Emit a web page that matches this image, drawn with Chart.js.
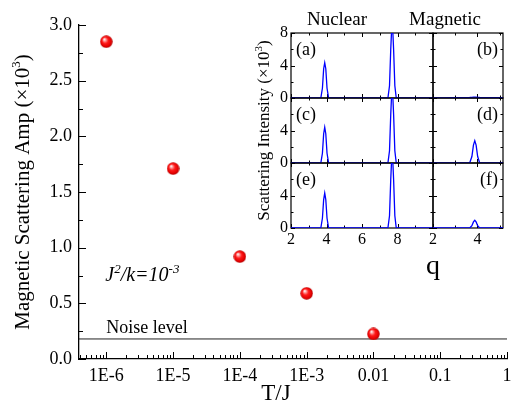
<!DOCTYPE html>
<html><head><meta charset="utf-8">
<script src="https://cdn.jsdelivr.net/npm/chart.js@4/dist/chart.umd.min.js"></script>
<style>
html,body{margin:0;padding:0;background:#fff;}
#wrap{position:relative;width:514px;height:403px;overflow:hidden;background:#fff;}
canvas{position:absolute;}
</style></head>
<body><div id="wrap"><canvas id="main" width="514" height="403" style="left:0;top:0"></canvas></div>
<script>
// ---------- data ----------
const temperatures = [1e-6, 1e-5, 1e-4, 1e-3, 0.01];
const amplitudes = [2.85, 1.71, 0.92, 0.59, 0.225];
const noiseLevel = 0.18;
const xTickValues = [1e-6, 1e-5, 1e-4, 1e-3, 0.01, 0.1, 1];
const xTickLabels = ['1E-6', '1E-5', '1E-4', '1E-3', '0.01', '0.1', '1'];
const yTickValues = [0, 0.5, 1, 1.5, 2, 2.5, 3];
const yTickLabels = ['0.0', '0.5', '1.0', '1.5', '2.0', '2.5', '3.0'];

const nuclearQ   = [2.0, 3.6, 3.68, 3.77, 3.84, 3.9, 3.96, 4.03, 4.12, 4.3, 7.3, 7.46, 7.55, 7.62, 7.7, 7.78, 7.85, 7.93, 8.1, 10.0];
const intensityA = [0, 0, 0, 1.2, 3.6, 4.35, 3.6, 1.2, 0, 0, 0, 0, 1.5, 6.0, 10.0, 6.0, 1.5, 0, 0, 0];
const intensityC = [0, 0, 0, 1.2, 3.6, 4.4, 3.6, 1.2, 0, 0, 0, 0, 1.5, 6.0, 10.0, 6.0, 1.5, 0, 0, 0];
const intensityE = [0, 0, 0, 1.2, 3.5, 4.3, 3.5, 1.2, 0, 0, 0, 0, 1.5, 6.0, 10.0, 6.0, 1.5, 0, 0, 0];

const magneticQ  = [2.0, 2.5, 3.0, 3.5, 3.65, 3.75, 3.82, 3.88, 3.94, 4.01, 4.1, 4.5, 5.0, 5.15];
const intensityB = [0, 0.02, 0.03, 0.05, 0.06, 0.08, 0.1, 0.1, 0.1, 0.08, 0.07, 0.05, 0.03, 0.02];
const intensityD = [0, 0, 0, 0, 0, 0.8, 2.2, 2.75, 2.2, 0.8, 0, 0, 0, 0];
const intensityF = [0, 0, 0, 0, 0, 0.28, 0.75, 0.95, 0.75, 0.28, 0, 0, 0, 0];

const nuclearTickLabels = [2, 4, 6, 8];
const magneticTickLabels = [2, 4];
const intensityTicksTop = [0, 4, 8];
const intensityTicks = [0, 4];

// ---------- helpers ----------
const SERIF = '"Liberation Serif", "Times New Roman", serif';
Chart.defaults.font.family = SERIF;
Chart.defaults.color = '#000';

function makeBall() {
  const c = document.createElement('canvas');
  c.width = 13; c.height = 13;
  const g = c.getContext('2d');
  const grad = g.createRadialGradient(4.4, 4.0, 0.3, 6.5, 6.5, 6.5);
  grad.addColorStop(0, '#ffffff');
  grad.addColorStop(0.18, '#ff9c9c');
  grad.addColorStop(0.45, '#ff1a1a');
  grad.addColorStop(0.8, '#e40000');
  grad.addColorStop(1, '#a00000');
  g.fillStyle = grad;
  g.beginPath(); g.arc(6.5, 6.5, 6.2, 0, Math.PI * 2); g.fill();
  return c;
}

function drawRich(ctx, parts, x, y, size, style, align, supScale) {
  const supSize = Math.round(size * (supScale || 0.62));
  const f = s => `${style || 'normal'} ${s}px ${SERIF}`;
  let total = 0;
  const widths = parts.map(p => { ctx.font = f(p[1] ? supSize : size); const w = ctx.measureText(p[0]).width; total += w; return w; });
  let cx = align === 'center' ? x - total / 2 : x;
  ctx.textBaseline = 'alphabetic'; ctx.textAlign = 'left';
  parts.forEach((p, i) => {
    ctx.font = f(p[1] ? supSize : size);
    ctx.fillText(p[0], cx, p[1] ? y - size * 0.42 : y);
    cx += widths[i];
  });
}

function seg(ctx, x1, y1, x2, y2) { ctx.beginPath(); ctx.moveTo(x1, y1); ctx.lineTo(x2, y2); ctx.stroke(); }

// ---------- main chart ----------
const X_MIN = 3.9e-7, X_MAX = 1;

const mainDecor = {
  id: 'mainDecor',
  afterDraw(chart) {
    const { ctx, scales: { x, y }, chartArea: a } = chart;
    ctx.save();
    ctx.strokeStyle = '#000'; ctx.lineWidth = 1;
    for (let i = 0; i <= 12; i++) {
      const py = Math.round(y.getPixelForValue(i * 0.25)) + 0.5;
      seg(ctx, a.left, py, a.left + (i % 2 === 0 ? 7 : 4), py);
    }
    for (let e = -7; e <= 0; e++) {
      for (let k = 1; k <= 9; k++) {
        const v = parseFloat(k + 'e' + e);
        if (v < X_MIN || v > X_MAX * 1.0001) continue;
        const px = Math.round(x.getPixelForValue(v)) + 0.5;
        seg(ctx, px, a.bottom, px, a.bottom - (k === 1 ? 7 : 4));
      }
    }
    ctx.fillStyle = '#000';
    ctx.font = `18px ${SERIF}`; ctx.textAlign = 'left'; ctx.textBaseline = 'alphabetic';
    ctx.fillText('Noise level', x.getPixelForValue(1e-6), y.getPixelForValue(noiseLevel) - 6);
    drawRich(ctx, [['J', 0], ['2', 1], ['/k=10', 0], ['-3', 1]], x.getPixelForValue(1e-6) - 1, y.getPixelForValue(0.70), 20, 'italic', 'left', 0.66);
    // axis titles
    ctx.save();
    ctx.translate(22, (a.top + a.bottom) / 2);
    ctx.rotate(-Math.PI / 2);
    drawRich(ctx, [['Magnetic Scattering Amp (\u00d710', 0], ['3', 1], [')', 0]], 0, 7, 21, 'normal', 'center');
    ctx.restore();
    ctx.font = `23px ${SERIF}`; ctx.textAlign = 'center';
    ctx.fillText('T/J', 276, 400);
    ctx.restore();
  }
};

new Chart(document.getElementById('main'), {
  type: 'scatter',
  data: {
    datasets: [
      {
        data: temperatures.map((t, i) => ({ x: t, y: amplitudes[i] })),
        pointStyle: makeBall(), pointRadius: 6, showLine: false
      },
      {
        data: [{ x: X_MIN, y: noiseLevel }, { x: X_MAX, y: noiseLevel }],
        showLine: true, borderColor: '#222', borderWidth: 1, pointRadius: 0
      }
    ]
  },
  options: {
    responsive: false, animation: false, devicePixelRatio: 1, events: [],
    layout: { padding: { left: 0, right: 2, top: 25, bottom: 0 } },
    plugins: { legend: { display: false }, tooltip: { enabled: false } },
    scales: {
      x: {
        type: 'logarithmic', min: X_MIN, max: X_MAX, bounds: 'data',
        grid: { display: false, drawTicks: false },
        border: { display: true, color: '#000', width: 1.3 },
        ticks: { font: { size: 18 }, color: '#000', padding: 6, maxRotation: 0, autoSkip: false,
          callback: (v, i) => xTickLabels[i] },
        afterBuildTicks: s => { s.ticks = xTickValues.map(v => ({ value: v })); },
        afterFit: s => { s.height = 44; s.paddingLeft = 0; s.paddingRight = 0; }
      },
      y: {
        min: 0, max: 3,
        grid: { display: false, drawTicks: false },
        border: { display: true, color: '#000', width: 1.3 },
        ticks: { font: { size: 18 }, color: '#000', padding: 7, autoSkip: false,
          callback: (v, i) => yTickLabels[i] },
        afterBuildTicks: s => { s.ticks = yTickValues.map(v => ({ value: v })); },
        afterFit: s => { s.width = 79; s.paddingTop = 0; s.paddingBottom = 0; }
      }
    }
  },
  plugins: [mainDecor]
});

// ---------- inset panels ----------
const colL = { left: 291, right: 433, xmin: 2, xmax: 10 };
const colR = { left: 433, right: 503, xmin: 2, xmax: 5.15 };
const rows = [{ top: 33, bottom: 98 }, { top: 98, bottom: 163 }, { top: 163, bottom: 228 }];

const panels = [
  { col: colL, row: rows[0], q: nuclearQ, I: intensityA, letter: '(a)', left: true, bottom: false, yTicks: intensityTicksTop, xTicks: nuclearTickLabels, extra: 'nuclear' },
  { col: colR, row: rows[0], q: magneticQ, I: intensityB, letter: '(b)', left: false, bottom: false, yTicks: [], xTicks: magneticTickLabels, extra: 'magnetic' },
  { col: colL, row: rows[1], q: nuclearQ, I: intensityC, letter: '(c)', left: true, bottom: false, yTicks: intensityTicks, xTicks: nuclearTickLabels, extra: 'ytitle' },
  { col: colR, row: rows[1], q: magneticQ, I: intensityD, letter: '(d)', left: false, bottom: false, yTicks: [], xTicks: magneticTickLabels },
  { col: colL, row: rows[2], q: nuclearQ, I: intensityE, letter: '(e)', left: true, bottom: true, yTicks: intensityTicks, xTicks: nuclearTickLabels, extra: 'q' },
  { col: colR, row: rows[2], q: magneticQ, I: intensityF, letter: '(f)', left: false, bottom: true, yTicks: [], xTicks: magneticTickLabels }
];

const M = { l: 45, t: 110, r: 10, b: 110 };
const X_LABEL_H = 60;
const wrap = document.getElementById('wrap');

function panelDecor(p) {
  return {
    id: 'panelDecor',
    beforeDatasetsDraw(chart) {
      const { ctx, chartArea: a, scales: { x, y } } = chart;
      ctx.save();
      ctx.strokeStyle = '#000'; ctx.lineWidth = 1.2;
      ctx.strokeRect(a.left, a.top, a.right - a.left, a.bottom - a.top);
      ctx.lineWidth = 1;
      for (let v = Math.ceil(p.col.xmin); v <= p.col.xmax; v += 1) {
        const px = Math.round(x.getPixelForValue(v)) + 0.5;
        const len = v % 2 === 0 ? 4 : 2.5;
        seg(ctx, px, a.bottom, px, a.bottom - len);
        seg(ctx, px, a.top, px, a.top + len);
      }
      for (let v = 0; v <= 8; v += 2) {
        const py = Math.round(y.getPixelForValue(v)) + 0.5;
        const len = v % 4 === 0 ? 4 : 2.5;
        seg(ctx, a.left, py, a.left + len, py);
        seg(ctx, a.right, py, a.right - len, py);
      }
      ctx.restore();
    },
    afterDraw(chart) {
      const { ctx, chartArea: a } = chart;
      ctx.save();
      ctx.fillStyle = '#000';
      ctx.font = `18px ${SERIF}`; ctx.textBaseline = 'alphabetic';
      if (p.left) { ctx.textAlign = 'left'; ctx.fillText(p.letter, a.left + 5, a.top + 22); }
      else { ctx.textAlign = 'right'; ctx.fillText(p.letter, a.right - 5, a.top + 22); }
      ctx.font = `19px ${SERIF}`; ctx.textAlign = 'center';
      if (p.extra === 'nuclear') ctx.fillText('Nuclear', a.left + 46, a.top - 8);
      if (p.extra === 'magnetic') ctx.fillText('Magnetic', a.left + 12, a.top - 8);
      if (p.extra === 'q') { ctx.font = `28px ${SERIF}`; ctx.fillText('q', a.right, a.bottom + 46); }
      if (p.extra === 'ytitle') {
        ctx.translate(a.left - 28, (a.top + a.bottom) / 2);
        ctx.rotate(-Math.PI / 2);
        drawRich(ctx, [['Scattering Intensity (\u00d710', 0], ['3', 1], [')', 0]], 0, 6, 17, 'normal', 'center');
      }
      ctx.restore();
    }
  };
}

panels.forEach(p => {
  const w = p.col.right - p.col.left, h = p.row.bottom - p.row.top;
  const cv = document.createElement('canvas');
  cv.width = w + M.l + M.r; cv.height = h + M.t + M.b;
  cv.style.left = (p.col.left - M.l) + 'px';
  cv.style.top = (p.row.top - M.t) + 'px';
  wrap.appendChild(cv);
  new Chart(cv, {
    type: 'line',
    data: { datasets: [{
      data: p.q.map((q, i) => ({ x: q, y: p.I[i] })),
      borderColor: '#0000ff', borderWidth: 1.3, pointRadius: 0, tension: 0, fill: false
    }] },
    options: {
      responsive: false, animation: false, devicePixelRatio: 1, events: [],
      layout: { padding: { left: p.left ? 0 : M.l, top: M.t, right: M.r, bottom: p.bottom ? M.b - X_LABEL_H : M.b } },
      plugins: { legend: { display: false }, tooltip: { enabled: false } },
      scales: {
        x: {
          type: 'linear', min: p.col.xmin, max: p.col.xmax, bounds: 'data', display: p.bottom,
          grid: { display: false, drawTicks: false }, border: { display: false },
          ticks: { font: { size: 16 }, color: '#000', padding: 2, maxRotation: 0, autoSkip: false },
          afterBuildTicks: s => { s.ticks = p.xTicks.map(v => ({ value: v })); },
          afterFit: s => { if (p.bottom) s.height = X_LABEL_H; s.paddingLeft = 0; s.paddingRight = 0; }
        },
        y: {
          min: 0, max: 8, bounds: 'data', display: p.left,
          grid: { display: false, drawTicks: false }, border: { display: false },
          ticks: { font: { size: 16 }, color: '#000', padding: 3, autoSkip: false },
          afterBuildTicks: s => { s.ticks = p.yTicks.map(v => ({ value: v })); },
          afterFit: s => { if (p.left) s.width = M.l; s.paddingTop = 0; s.paddingBottom = 0; }
        }
      }
    },
    plugins: [panelDecor(p)]
  });
});
</script>
</body></html>
